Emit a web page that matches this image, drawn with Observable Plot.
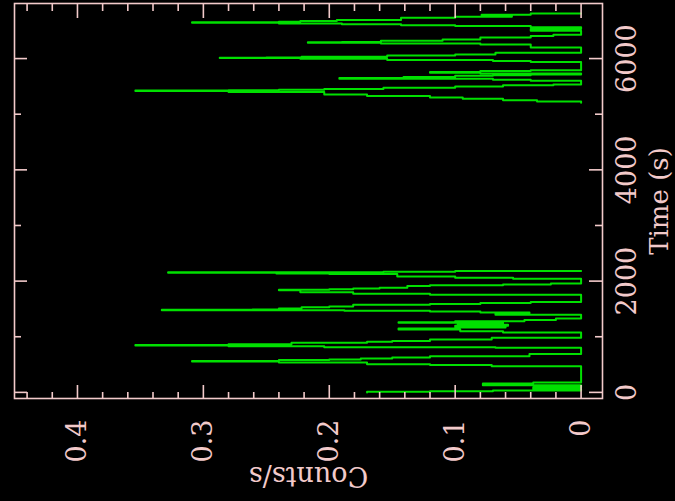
<!DOCTYPE html>
<html>
<head>
<meta charset="utf-8">
<script src="https://cdn.jsdelivr.net/npm/d3@7"></script>
<script src="https://cdn.jsdelivr.net/npm/@observablehq/plot@0.6"></script>
<style>
  html, body { margin:0; padding:0; background:#000; width:675px; height:501px; overflow:hidden; }
  #wrap { position:relative; width:675px; height:501px; overflow:hidden; background:#000; }
  #wrap svg { position:absolute; left:0; top:0; transform-origin:0 0; transform: translate(0px, 501px) rotate(-90deg); }
</style>
</head>
<body>
<div id="wrap"></div>
<script>
// ---- data (time in s, rate in counts/s) ----
// first good-time interval
const gti1Time = [0, 12, 22, 32, 62, 90, 130, 160, 178,
  471, 490, 505, 535, 556, 566, 580, 592, 610, 625, 651, 690,
  800, 812, 828, 843, 852, 866, 892, 910, 925, 951, 982,
  1075, 1100, 1131, 1148, 1165, 1182, 1198, 1214, 1230, 1251, 1262, 1280, 1300, 1330,
  1395, 1420, 1437, 1452, 1466, 1478, 1486, 1492, 1509, 1530, 1545, 1575, 1590, 1605, 1625,
  1755, 1773, 1800, 1838, 1846, 1852, 1868, 1880, 1910, 1925, 1940, 1958,
  2042, 2060, 2084, 2130, 2138, 2150, 2160, 2170, 2180];
const gti1Rate = [0.170, 0.120, 0.070, 0.000, 0.038, 0.000, 0.078, 0.038, 0.000,
  0.071, 0.120, 0.170, 0.240, 0.309, 0.240, 0.200, 0.175, 0.150, 0.120, 0.041, 0.000,
  0.068, 0.204, 0.280, 0.354, 0.280, 0.230, 0.170, 0.150, 0.120, 0.071, 0.000,
  0.062, 0.096, 0.145, 0.100, 0.060, 0.100, 0.058, 0.098, 0.062, 0.145, 0.100, 0.045, 0.020, 0.000,
  0.068, 0.041, 0.080, 0.120, 0.188, 0.333, 0.261, 0.240, 0.222, 0.200, 0.181, 0.120, 0.080, 0.040, 0.000,
  0.120, 0.181, 0.223, 0.240, 0.200, 0.181, 0.160, 0.138, 0.120, 0.062, 0.024, 0.000,
  0.054, 0.100, 0.146, 0.200, 0.242, 0.328, 0.157, 0.100, 0.000];
// second good-time interval
const gti2Time = [5205, 5230, 5250, 5279, 5300, 5326, 5356, 5398, 5415, 5424, 5430, 5440, 5455, 5477, 5500, 5520, 5536,
  5600, 5620, 5637, 5650, 5670, 5690, 5700, 5716, 5730, 5745, 5760, 5775, 5790,
  5940, 5955, 5975, 5995, 6009, 6016, 6020, 6035, 6057, 6075, 6106,
  6200, 6255, 6270, 6286, 6294, 6300, 6320, 6345, 6380, 6405, 6430,
  6500, 6530, 6565, 6584, 6600, 6615, 6630, 6645, 6652, 6660, 6675, 6692, 6735, 6750, 6770, 6790, 6812];
const gti2Rate = [0.000, 0.035, 0.062, 0.094, 0.120, 0.170, 0.204, 0.280, 0.354, 0.280, 0.240, 0.204, 0.157, 0.100, 0.062, 0.022, 0.000,
  0.040, 0.070, 0.192, 0.141, 0.100, 0.070, 0.040, 0.000, 0.080, 0.120, 0.080, 0.040, 0.000,
  0.040, 0.070, 0.154, 0.223, 0.287, 0.250, 0.222, 0.154, 0.100, 0.068, 0.000,
  0.040, 0.080, 0.159, 0.217, 0.190, 0.159, 0.110, 0.080, 0.040, 0.022, 0.000,
  0.040, 0.000, 0.040, 0.100, 0.143, 0.190, 0.240, 0.309, 0.240, 0.223, 0.194, 0.143, 0.100, 0.055, 0.079, 0.040, 0.000];

// axis ticks and labels
const timeMajor = [0, 2000, 4000, 6000];
const timeMinor = [1000, 3000, 5000];
const rateMajor = [0, 0.1, 0.2, 0.3, 0.4];
const rateMinor = [0.02, 0.04, 0.06, 0.08, 0.12, 0.14, 0.16, 0.18, 0.22, 0.24, 0.26, 0.28, 0.32, 0.34, 0.36, 0.38, 0.42, 0.44];
const timeTitle = ["Time (s)"];
const rateTitle = ["Counts/s"];

// ---- build table ----
const rows = [];
gti1Time.forEach((t, i) => rows.push({t, r: gti1Rate[i], gti: 1}));
gti2Time.forEach((t, i) => rows.push({t, r: gti2Rate[i], gti: 2}));

const ink = "#f2caca";
const W = 501, H = 675;
const mL = 102, mR = 4, mT = 14, mB = 73;
const pw = W - mL - mR, ph = H - mT - mB;

const chart = Plot.plot({
  width: W, height: H,
  marginLeft: mL, marginRight: mR, marginTop: mT, marginBottom: mB,
  style: {background: "transparent", color: ink, fontFamily: "'DejaVu Serif', serif", fontSize: "27px"},
  x: {domain: [-110, 6990]},
  y: {domain: [-0.017, 0.45]},
  marks: [
    Plot.line(rows, {x: "t", y: "r", z: "gti", curve: "step-after", stroke: "#00e000", strokeWidth: 2}),
    Plot.frame({stroke: ink, strokeWidth: 1.6}),
    // inward ticks, time axis (both sides)
    Plot.tickX(timeMajor, {x: d => d, insetTop: ph - 13, stroke: ink, strokeWidth: 1.6}),
    Plot.tickX(timeMinor, {x: d => d, insetTop: ph - 7, stroke: ink, strokeWidth: 1.6}),
    Plot.tickX(timeMajor, {x: d => d, insetBottom: ph - 13, stroke: ink, strokeWidth: 1.6}),
    Plot.tickX(timeMinor, {x: d => d, insetBottom: ph - 7, stroke: ink, strokeWidth: 1.6}),
    // inward ticks, rate axis (both sides)
    Plot.tickY(rateMajor, {y: d => d, insetRight: pw - 14, stroke: ink, strokeWidth: 1.6}),
    Plot.tickY(rateMinor, {y: d => d, insetRight: pw - 7, stroke: ink, strokeWidth: 1.6}),
    Plot.tickY(rateMajor, {y: d => d, insetLeft: pw - 14, stroke: ink, strokeWidth: 1.6}),
    Plot.tickY(rateMinor, {y: d => d, insetLeft: pw - 7, stroke: ink, strokeWidth: 1.6}),
    Plot.axisX(timeMajor, {tickSize: 0, tickPadding: 14, tickFormat: d => String(d), label: null, fill: ink, fontSize: 27}),
    Plot.axisY(rateMajor, {tickSize: 0, tickPadding: 21, tickFormat: d => String(d), label: null, fill: ink, fontSize: 27}),
    Plot.text(rateTitle, {text: d => d, frameAnchor: "left", dx: -77, rotate: -90, lineAnchor: "middle", textAnchor: "middle", fill: ink, fontSize: 27}),
    Plot.text(timeTitle, {text: d => d, frameAnchor: "bottom", dy: 57, lineAnchor: "middle", textAnchor: "middle", fill: ink, fontSize: 26})
  ]
});
document.getElementById("wrap").appendChild(chart);
</script>
</body>
</html>
